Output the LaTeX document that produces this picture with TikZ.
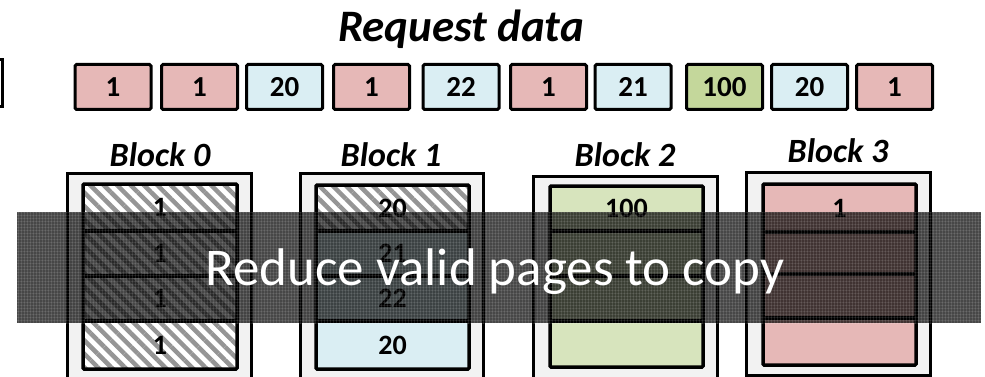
\documentclass[tikz,border=0pt]{standalone}
\usepackage{fontspec}
\setmainfont{Carlito}
\usetikzlibrary{patterns.meta}
\definecolor{pagered}{HTML}{E6B8B7}
\definecolor{pageblue}{HTML}{DAEEF3}
\definecolor{pagegreen}{HTML}{C4D79B}
\definecolor{pagegreenlt}{HTML}{D7E4BD}
\definecolor{blockgray}{HTML}{F2F2F2}
\definecolor{hatchgray}{HTML}{959595}
\tikzset{
  x=1pt, y=-1pt,
  reqbox/.style={draw=black, line width=3pt, rounded corners=1.5pt, inner sep=0pt,
    minimum width=76pt, minimum height=45pt, text height=18.5pt, text depth=0pt,
    font=\fontsize{29}{29}\selectfont\bfseries},
  blocklabel/.style={anchor=base, inner sep=0pt, font=\fontsize{34}{34}\selectfont\bfseries\itshape},
  outerbox/.style={draw=black, line width=3pt, fill=blockgray},
  innerbox/.style={draw=black, line width=3.5pt, rounded corners=1pt},
  rowline/.style={draw=black, line width=3.5pt},
  pagetext/.style={inner sep=0pt, text height=18pt, text depth=0pt,
    font=\fontsize{28}{28}\selectfont\bfseries},
  hatched/.style={preaction={fill=white},
    pattern={Lines[angle=-45, distance=9.5pt, line width=4.5pt]}, pattern color=hatchgray},
  bannertexture/.style={pattern={Lines[angle=0, distance=3pt, line width=0.7pt]},
    pattern color=white, opacity=0.1},
}
\begin{document}
\begin{tikzpicture}
\useasboundingbox (0,0) rectangle (985,377);
\clip (0,0) rectangle (985,377);

% title and the edge of a box from the previous panel
\node[anchor=base, inner sep=0pt, font=\fontsize{45}{45}\selectfont\bfseries\itshape] (title) at (461,42) {Request data};
\draw[line width=3pt] (-10,60) rectangle (2,107);

% request stream
\node[reqbox, fill=pagered]   (r1)  at (113,87) {1};
\node[reqbox, fill=pagered]   (r2)  at (199.5,87) {1};
\node[reqbox, fill=pageblue]  (r3)  at (284.5,87) {20};
\node[reqbox, fill=pagered]   (r4)  at (371.5,87) {1};
\node[reqbox, fill=pageblue]  (r5)  at (461,87) {22};
\node[reqbox, fill=pagered]   (r6)  at (548.5,87) {1};
\node[reqbox, fill=pageblue]  (r7)  at (633,87) {21};
\node[reqbox, fill=pagegreen] (r8)  at (724.5,87) {100};
\node[reqbox, fill=pageblue]  (r9)  at (809.5,87) {20};
\node[reqbox, fill=pagered]   (r10) at (894.5,87) {1};

% block labels
\node[blocklabel] (b0) at (160,166) {Block 0};
\node[blocklabel] (b1) at (391,166) {Block 1};
\node[blocklabel] (b2) at (625,167) {Block 2};
\node[blocklabel] (b3) at (838,162) {Block 3};

% Block 0: every page hatched
\draw[outerbox] (67,173) rectangle (251,390);
\fill[hatched] (83,184) rectangle (237,369);
\draw[innerbox] (83,184) rectangle (237,369);
\draw[rowline] (83,231) -- (237,231);
\draw[rowline] (83,276) -- (237,276);
\draw[rowline] (83,321) -- (237,321);
\node[pagetext] (p00) at (160,207.5) {1};
\node[pagetext] (p01) at (160,253.5) {1};
\node[pagetext] (p02) at (160,298.5) {1};
\node[pagetext] (p03) at (160,345) {1};

% Block 1
\draw[outerbox] (300,173) rectangle (483,390);
\fill[pageblue] (316,185) rectangle (469,369);
\fill[hatched] (316,185) rectangle (469,231);
\draw[innerbox] (316,185) rectangle (469,369);
\draw[rowline] (316,231) -- (469,231);
\draw[rowline] (316,276) -- (469,276);
\draw[rowline] (316,321) -- (469,321);
\node[pagetext] (p10) at (392.5,208) {20};
\node[pagetext] (p11) at (392.5,253.5) {21};
\node[pagetext] (p12) at (392.5,298.5) {22};
\node[pagetext] (p13) at (392.5,345) {20};

% Block 2
\draw[outerbox] (533,176) rectangle (717,390);
\fill[pagegreenlt] (550,186) rectangle (703,367);
\draw[innerbox] (550,186) rectangle (703,367);
\draw[rowline] (550,231) -- (703,231);
\draw[rowline] (550,276) -- (703,276);
\draw[rowline] (550,321) -- (703,321);
\node[pagetext] (p20) at (626.5,208.5) {100};

% Block 3
\draw[outerbox] (746,172) rectangle (930,375);
\fill[pagered] (763,184) rectangle (916,365);
\draw[innerbox] (763,184) rectangle (916,365);
\draw[rowline] (763,232) -- (916,232);
\draw[rowline] (763,274) -- (916,274);
\draw[rowline] (763,318) -- (916,318);
\node[pagetext] (p30) at (839.5,208) {1};

% translucent banner with its message
\fill[black, opacity=0.72] (17,212) rectangle (981,323);
\fill[bannertexture] (17,212) rectangle (981,323);
\fill[bannertexture, pattern={Lines[angle=90, distance=3pt, line width=0.7pt]}] (17,212) rectangle (981,323);
\node[anchor=base, inner sep=0pt, text=white, font=\fontsize{53}{53}\selectfont] (msg) at (495,285) {Reduce valid pages to copy};
\end{tikzpicture}
\end{document}
